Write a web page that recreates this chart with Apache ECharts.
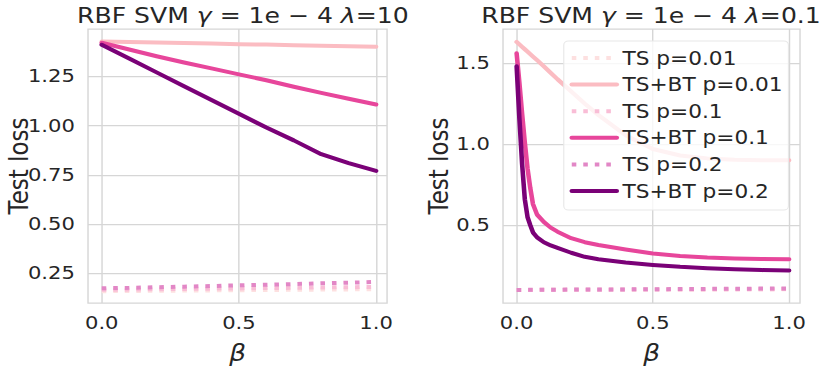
<!DOCTYPE html>
<html>
<head>
<meta charset="utf-8">
<script src="https://cdn.jsdelivr.net/npm/echarts@6/dist/echarts.min.js"></script>
<style>
  html, body { margin: 0; padding: 0; background: #fff; overflow: hidden; }
  /* the reference figure is stretched sideways, so the chart is drawn narrower and widened */
  #chart { width: 740px; height: 370px; transform: scaleX(1.1401); transform-origin: 0 0; }
</style>
</head>
<body>
<div id="chart"></div>
<script>
const seriesNames = ['TS p=0.01', 'TS+BT p=0.01', 'TS p=0.1', 'TS+BT p=0.1', 'TS p=0.2', 'TS+BT p=0.2']

// left panel: lambda = 10
const betasLeft = [0, 0.1, 0.2, 0.3, 0.4, 0.5, 0.6, 0.7, 0.8, 0.9, 1.0]
const leftTs001 = [0.160, 0.161, 0.162, 0.163, 0.164, 0.165, 0.166, 0.167, 0.168, 0.169, 0.170]
const leftTsbt001 = [1.426, 1.424, 1.421, 1.419, 1.416, 1.413, 1.411, 1.408, 1.405, 1.403, 1.400]
const leftTs01 = [0.167, 0.168, 0.170, 0.171, 0.173, 0.174, 0.176, 0.177, 0.179, 0.180, 0.182]
const leftTsbt01 = [1.420, 1.386, 1.352, 1.320, 1.290, 1.260, 1.230, 1.197, 1.166, 1.136, 1.107]
const leftTs02 = [0.175, 0.177, 0.180, 0.183, 0.186, 0.190, 0.193, 0.196, 0.200, 0.203, 0.207]
const leftTsbt02 = [1.410, 1.340, 1.270, 1.200, 1.130, 1.060, 0.990, 0.925, 0.855, 0.810, 0.770]

// right panel: lambda = 0.1
const betasRight = [0, 0.01, 0.02, 0.03, 0.04, 0.05, 0.06, 0.075, 0.1, 0.125, 0.15, 0.2, 0.25, 0.3, 0.4, 0.5, 0.6, 0.7, 0.8, 0.9, 1.0]
const rightTs001 = [0.100, 0.100, 0.100, 0.100, 0.100, 0.100, 0.100, 0.100, 0.101, 0.101, 0.101, 0.101, 0.102, 0.102, 0.102, 0.103, 0.103, 0.104, 0.104, 0.105, 0.105]
const rightTsbt001 = [1.630, 1.615, 1.600, 1.585, 1.570, 1.555, 1.540, 1.518, 1.480, 1.440, 1.400, 1.325, 1.250, 1.180, 1.055, 0.970, 0.930, 0.912, 0.904, 0.900, 0.900]
const rightTs01 = [0.100, 0.100, 0.100, 0.100, 0.100, 0.100, 0.101, 0.101, 0.101, 0.101, 0.101, 0.102, 0.102, 0.102, 0.103, 0.103, 0.104, 0.104, 0.105, 0.105, 0.106]
const rightTsbt01 = [1.560, 1.380, 1.190, 1.010, 0.850, 0.730, 0.630, 0.565, 0.520, 0.485, 0.460, 0.420, 0.395, 0.378, 0.350, 0.325, 0.310, 0.300, 0.295, 0.292, 0.290]
const rightTs02 = [0.100, 0.100, 0.100, 0.100, 0.101, 0.101, 0.101, 0.101, 0.102, 0.102, 0.102, 0.103, 0.103, 0.103, 0.104, 0.105, 0.106, 0.107, 0.108, 0.109, 0.110]
const rightTsbt02 = [1.480, 1.160, 0.880, 0.660, 0.550, 0.500, 0.455, 0.425, 0.395, 0.375, 0.360, 0.330, 0.305, 0.290, 0.270, 0.255, 0.243, 0.235, 0.228, 0.223, 0.220]

const xTicks = [0, 0.5, 1.0]
const leftYTicks = [0.25, 0.5, 0.75, 1.0, 1.25]
const rightYTicks = [0.5, 1.0, 1.5]

const colors = ['#fde0e0', '#fbbcc2', '#f9bdd6', '#e7469b', '#e287c6', '#7a0177']
const FONT = 'DejaVu Sans'
const TEXT = '#262626'
const GRIDC = '#d6d6d6'

const chart = echarts.init(document.getElementById('chart'), null, { renderer: 'svg' })

function xAxisOpt (gridIndex) {
  return {
    type: 'value',
    gridIndex: gridIndex,
    min: -0.05,
    max: 1.04,
    name: 'β',
    nameLocation: 'middle',
    nameGap: 39,
    nameMoveOverlap: false,
    nameTextStyle: { fontFamily: FONT, fontSize: 23, fontStyle: 'italic', color: TEXT },
    axisLine: { show: false },
    axisTick: { show: false, customValues: xTicks },
    axisLabel: {
      customValues: xTicks,
      fontFamily: FONT,
      fontSize: 18.5,
      color: TEXT,
      margin: 10,
      formatter: v => v.toFixed(1)
    },
    splitLine: { show: true, lineStyle: { color: GRIDC, width: 1.25 } }
  }
}

function yAxisOpt (gridIndex, min, max, ticks, digits, gap) {
  return {
    type: 'value',
    gridIndex: gridIndex,
    min: min,
    max: max,
    name: 'Test loss',
    nameLocation: 'middle',
    nameGap: gap,
    nameMoveOverlap: false,
    nameTextStyle: { fontFamily: FONT, fontSize: 23, color: TEXT },
    axisLine: { show: false },
    axisTick: { show: false, customValues: ticks },
    axisLabel: {
      customValues: ticks,
      fontFamily: FONT,
      fontSize: 18.5,
      color: TEXT,
      margin: 11.5,
      formatter: v => v.toFixed(digits)
    },
    splitLine: { show: true, lineStyle: { color: GRIDC, width: 1.25 } }
  }
}

function makeSeries (panel, betas, arrays) {
  return arrays.map((arr, i) => {
    const dotted = i % 2 === 0
    return {
      name: seriesNames[i],
      type: 'line',
      xAxisIndex: panel,
      yAxisIndex: panel,
      data: betas.map((b, j) => [b, arr[j]]),
      symbol: 'none',
      silent: true,
      z: 2 + i,
      color: colors[i],
      lineStyle: dotted
        ? { color: colors[i], width: 4, type: [4, 6.1], cap: 'butt' }
        : { color: colors[i], width: 4, cap: 'round', join: 'round' }
    }
  })
}

function titleText (lam) {
  return '{n|RBF SVM }{i|γ}{n| = 1e − 4 }{i|λ}{n|=' + lam + '}'
}

const titleRich = {
  n: { fontFamily: FONT, fontSize: 22, fontWeight: 'normal', color: TEXT },
  i: { fontFamily: FONT, fontSize: 22, fontWeight: 'normal', fontStyle: 'italic', color: TEXT }
}

const option = {
  animation: false,
  backgroundColor: '#ffffff',
  title: [
    { text: titleText('10'), left: 208, top: 0, textAlign: 'center', textStyle: { fontWeight: 'normal', rich: titleRich } },
    { text: titleText('0.1'), left: 566, top: 0, textAlign: 'center', textStyle: { fontWeight: 'normal', rich: titleRich } }
  ],
  grid: [
    { left: 77.2, top: 29, width: 262.3, height: 277, show: true, borderColor: GRIDC, borderWidth: 1.25, backgroundColor: 'transparent' },
    { left: 441.2, top: 29, width: 260.5, height: 276, show: true, borderColor: GRIDC, borderWidth: 1.25, backgroundColor: 'transparent' }
  ],
  xAxis: [xAxisOpt(0), xAxisOpt(1)],
  yAxis: [
    yAxisOpt(0, 0.10, 1.49, leftYTicks, 2, 49),
    yAxisOpt(1, 0.02, 1.71, rightYTicks, 1, 44.5)
  ],
  legend: {
    data: seriesNames,
    orient: 'vertical',
    left: 494.5,
    top: 41,
    padding: [7, 5, 9, 5],
    itemWidth: 39.5,
    itemHeight: 14,
    itemGap: 6.6,
    selectedMode: false,
    backgroundColor: 'rgba(255,255,255,0.8)',
    borderColor: '#e8e8e8',
    borderWidth: 1,
    borderRadius: 4,
    z: 20,
    itemStyle: { opacity: 0 },
    lineStyle: { width: 4 },
    textStyle: { fontFamily: FONT, fontSize: 19, color: TEXT, lineHeight: 20 }
  },
  series: [
    ...makeSeries(0, betasLeft, [leftTs001, leftTsbt001, leftTs01, leftTsbt01, leftTs02, leftTsbt02]),
    ...makeSeries(1, betasRight, [rightTs001, rightTsbt001, rightTs01, rightTsbt01, rightTs02, rightTsbt02])
  ]
}

chart.setOption(option)
</script>
</body>
</html>
